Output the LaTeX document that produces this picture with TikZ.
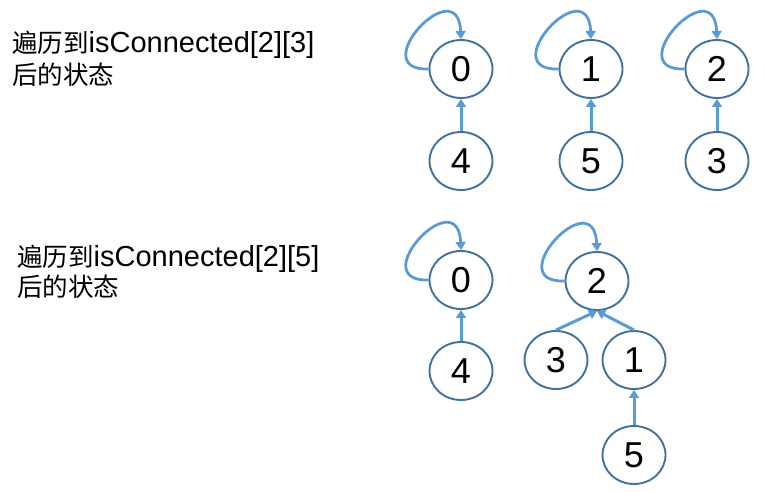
\documentclass[tikz,border=0pt]{standalone}
\usepackage{fontspec}
\setmainfont{Liberation Sans}
\newfontfamily\cjk{Noto Sans CJK SC}
\usetikzlibrary{shapes.geometric,arrows.meta}
\definecolor{ringcol}{HTML}{41719C}
\definecolor{arrowcol}{HTML}{5B9BD5}
\newcommand{\cjkt}[1]{{\fontsize{25.5pt}{28pt}\selectfont\cjk #1}}
\tikzset{
  vnode/.style={ellipse,draw=ringcol,line width=1.9pt,minimum width=63pt,minimum height=58pt,inner sep=0pt,
    font=\fontsize{36pt}{40pt}\selectfont},
  edgearrow/.style={draw=arrowcol,line width=3pt,-{Triangle[length=8pt,width=10pt]}},
  loopedge/.style={edgearrow,line width=2.8pt},
  label/.style={anchor=base west,inner sep=0pt,font=\fontsize{29pt}{32pt}\selectfont}
}
\begin{document}
\begin{tikzpicture}[x=1pt,y=-1pt]
\useasboundingbox (0,0) rectangle (766,492);
% text
\node[label] (t1a) at (12,53) {\cjkt{遍历到}isConnected[2][3]};
\node[label] (t1b) at (12,85) {\cjkt{后的状态}};
\node[label] (t2a) at (17,266) {\cjkt{遍历到}isConnected[2][5]};
\node[label] (t2b) at (17,296) {\cjkt{后的状态}};
% top row
\node[vnode] (a0) at (461,69) {0};
\node[vnode] (a1) at (591,69) {1};
\node[vnode] (a2) at (717,69) {2};
\node[vnode] (a4) at (461,161) {4};
\node[vnode] (a5) at (591,161) {5};
\node[vnode] (a3) at (717,161) {3};
\foreach \n in {a0,a1,a2}{
  \draw[loopedge] (\n.west) .. controls +(-65,2) and +(-3,-70) .. (\n.north);
}
\draw[edgearrow] (a4.north) -- (a0.south);
\draw[edgearrow] (a5.north) -- (a1.south);
\draw[edgearrow] (a3.north) -- (a2.south);
% bottom row
\node[vnode] (b0) at (461,280) {0};
\node[vnode] (b4) at (461,371) {4};
\node[vnode] (b2) at (597,281) {2};
\node[vnode] (b3) at (556,360) {3};
\node[vnode] (b1) at (634,360) {1};
\node[vnode] (b5) at (634,455) {5};
\foreach \n in {b0,b2}{
  \draw[loopedge] (\n.west) .. controls +(-65,2) and +(-3,-70) .. (\n.north);
}
\draw[edgearrow] (b4.north) -- (b0.south);
\draw[edgearrow] (b5.north) -- (b1.south);
\draw[edgearrow] (b3.north) -- (b2.south);
\draw[edgearrow] (b1.north) -- (b2.south);
\end{tikzpicture}
\end{document}
